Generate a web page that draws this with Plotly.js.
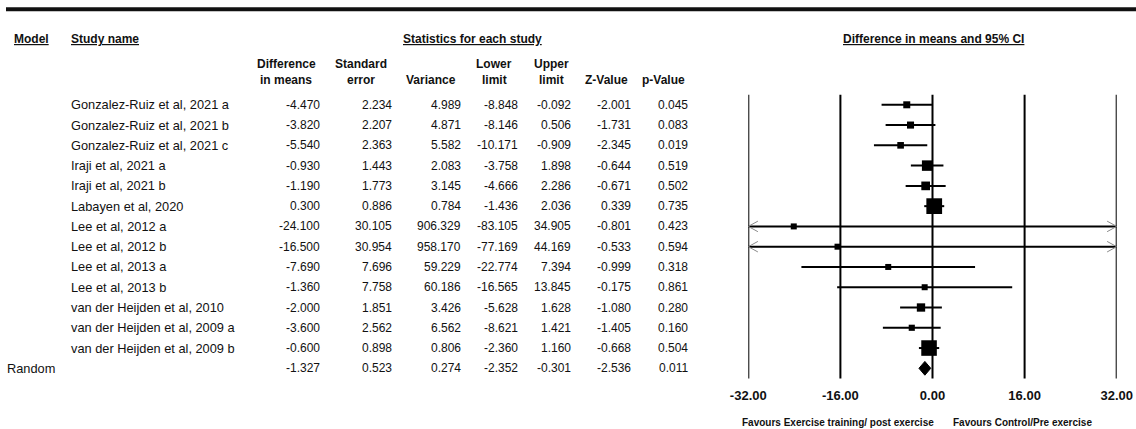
<!DOCTYPE html>
<html>
<head>
<meta charset="utf-8">
<script src="https://cdn.plot.ly/plotly-3.0.1.min.js"></script>
<style>html,body{margin:0;padding:0;background:#fff;}#chart{width:1136px;height:429px;}</style>
</head>
<body>
<div id="chart"></div>
<script>
// ---------- data ----------
const studies = [
  "Gonzalez-Ruiz et al, 2021 a",
  "Gonzalez-Ruiz et al, 2021 b",
  "Gonzalez-Ruiz et al, 2021 c",
  "Iraji et al, 2021 a",
  "Iraji et al, 2021 b",
  "Labayen et al, 2020",
  "Lee et al, 2012 a",
  "Lee et al, 2012 b",
  "Lee et al, 2013 a",
  "Lee et al, 2013 b",
  "van der Heijden et al, 2010",
  "van der Heijden et al, 2009 a",
  "van der Heijden et al, 2009 b"
];
const diffMeans = [-4.470, -3.820, -5.540, -0.930, -1.190, 0.300, -24.100, -16.500, -7.690, -1.360, -2.000, -3.600, -0.600];
const stdErr    = [2.234, 2.207, 2.363, 1.443, 1.773, 0.886, 30.105, 30.954, 7.696, 7.758, 1.851, 2.562, 0.898];
const variance  = [4.989, 4.871, 5.582, 2.083, 3.145, 0.784, 906.329, 958.170, 59.229, 60.186, 3.426, 6.562, 0.806];
const lowerLim  = [-8.848, -8.146, -10.171, -3.758, -4.666, -1.436, -83.105, -77.169, -22.774, -16.565, -5.628, -8.621, -2.360];
const upperLim  = [-0.092, 0.506, -0.909, 1.898, 2.286, 2.036, 34.905, 44.169, 7.394, 13.845, 1.628, 1.421, 1.160];
const zValue    = [-2.001, -1.731, -2.345, -0.644, -0.671, 0.339, -0.801, -0.533, -0.999, -0.175, -1.080, -1.405, -0.668];
const pValue    = [0.045, 0.083, 0.019, 0.519, 0.502, 0.735, 0.423, 0.594, 0.318, 0.861, 0.280, 0.160, 0.504];

const modelName = "Random";
const summaryDiff = -1.327, summarySE = 0.523, summaryVar = 0.274;
const summaryLower = -2.352, summaryUpper = -0.301, summaryZ = -2.536, summaryP = 0.011;

const tickVals = [-32, -16, 0, 16, 32];
const tickLabels = ["-32.00", "-16.00", "0.00", "16.00", "32.00"];

const headerTop = ["Difference", "Standard", "", "Lower", "Upper", "", ""];
const headerBottom = ["in means", "error", "Variance", "limit", "limit", "Z-Value", "p-Value"];
const favoursLeft = "Favours Exercise training/ post exercise";
const favoursRight = "Favours Control/Pre exercise";

// ---------- layout helpers ----------
const W = 1136, H = 429;
const FONT = "Liberation Sans, Arial, sans-serif";
const ROW0 = 104.8, ROWH = 20.27;       // pixel centre of first row, row spacing
const AXIS_PX = 386;                     // bottom of the plotting area
const px2row = p => (p - ROW0) / ROWH;
const xmin = tickVals[0], xmax = tickVals[tickVals.length - 1];
const n = studies.length;
const sumRow = n;
const tau2 = 0.25;

const annotations = [];
function txt(x, y, text, opts) {
  annotations.push(Object.assign({
    x: x / W, xref: "paper", y: y, yref: "y", text: text, showarrow: false,
    xanchor: "right", yanchor: "middle", borderpad: 0,
    font: {family: FONT, size: 12, color: "#111"}
  }, opts || {}));
}

// column right edges (pixels)
const colRight = [321, 393, 462, 519, 572, 632, 689];
const colCentre = [286, 361, 431, 494, 551, 606, 663];

// headers
const bold = {family: FONT, size: 12, color: "#111", weight: "bold"};
txt(13, px2row(38.5), "<u>Model</u>", {xanchor: "left", font: bold});
txt(70, px2row(38.5), "<u>Study name</u>", {xanchor: "left", font: bold});
txt(473, px2row(38.5), "<u>Statistics for each study</u>", {xanchor: "center", font: bold});
txt(933, px2row(38.5), "<u>Difference in means and 95% CI</u>", {xanchor: "center", font: bold});
for (let c = 0; c < headerBottom.length; c++) {
  if (headerTop[c]) txt(colCentre[c], px2row(63.5), headerTop[c], {xanchor: "center", font: bold});
  txt(colCentre[c], px2row(79.5), headerBottom[c], {xanchor: "center", font: bold});
}

// rows
const nameFont = {family: FONT, size: 12.8, color: "#111"};
const f3 = v => v.toFixed(3);
function rowText(i, vals) {
  vals.forEach((v, c) => txt(colRight[c], i, f3(v)));
}
for (let i = 0; i < n; i++) {
  txt(70, i, studies[i], {xanchor: "left", font: nameFont});
  rowText(i, [diffMeans[i], stdErr[i], variance[i], lowerLim[i], upperLim[i], zValue[i], pValue[i]]);
}
txt(6, sumRow, modelName, {xanchor: "left", font: nameFont});
rowText(sumRow, [summaryDiff, summarySE, summaryVar, summaryLower, summaryUpper, summaryZ, summaryP]);

// footer
const footFont = {family: FONT, size: 10, color: "#111", weight: "bold"};
annotations.push({x: 741 / W, xref: "paper", y: 1 - 422.7 / H, yref: "paper", text: favoursLeft,
  showarrow: false, xanchor: "left", yanchor: "middle", borderpad: 0, font: footFont});
annotations.push({x: 952 / W, xref: "paper", y: 1 - 422.7 / H, yref: "paper", text: favoursRight,
  showarrow: false, xanchor: "left", yanchor: "middle", borderpad: 0, font: footFont});

// ---------- traces ----------
const clip = v => Math.max(xmin, Math.min(xmax, v));
const ciX = [], ciY = [];
const chevX = [], chevY = [];
const dx = (xmax - xmin) * 0.026, dy = 0.26;
for (let i = 0; i < n; i++) {
  ciX.push(clip(lowerLim[i]), clip(upperLim[i]), null);
  ciY.push(i, i, null);
  if (lowerLim[i] < xmin) { chevX.push(xmin + dx, xmin, xmin + dx, null); chevY.push(i - dy, i, i + dy, null); }
  if (upperLim[i] > xmax) { chevX.push(xmax - dx, xmax, xmax - dx, null); chevY.push(i - dy, i, i + dy, null); }
}
const sizes = variance.map(v => Math.max(6, 16 * Math.sqrt(1 / (v + tau2))));

const traces = [
  {x: ciX, y: ciY, mode: "lines", line: {color: "#000", width: 2}, hoverinfo: "skip", cliponaxis: false},
  {x: chevX, y: chevY, mode: "lines", line: {color: "#8a8a8a", width: 1}, hoverinfo: "skip", cliponaxis: false},
  {x: diffMeans, y: studies.map((s, i) => i), mode: "markers",
   marker: {symbol: "square", size: sizes, color: "#000", opacity: 1, line: {width: 0}}, cliponaxis: false},
  {x: [summaryLower, summaryDiff, summaryUpper, summaryDiff, summaryLower],
   y: [sumRow, sumRow - 0.34, sumRow, sumRow + 0.34, sumRow],
   mode: "lines", fill: "toself", fillcolor: "#000", line: {color: "#000", width: 1}, cliponaxis: false}
];

// ---------- shapes ----------
const shapes = [
  {type: "line", xref: "paper", yref: "paper", x0: 6 / W, x1: 1, y0: 1 - 9.3 / H, y1: 1 - 9.3 / H,
   line: {color: "#111", width: 4}}
];
tickVals.forEach(v => shapes.push({type: "line", xref: "x", yref: "y", x0: v, x1: v, y0: -0.5, y1: sumRow + 0.5,
  line: {color: "#000", width: 2}, layer: "below"}));

const layout = {
  width: W, height: H,
  margin: {l: 0, r: 0, t: 0, b: 0},
  paper_bgcolor: "#fff", plot_bgcolor: "rgba(0,0,0,0)",
  showlegend: false,
  xaxis: {
    domain: [748.3 / W, 1116.7 / W], range: [xmin, xmax],
    showgrid: false, zeroline: false, showline: false, ticks: "",
    tickmode: "array", tickvals: tickVals, ticktext: tickLabels,
    tickfont: {family: FONT, size: 13, color: "#111", weight: "bold"},
    fixedrange: true
  },
  yaxis: {
    domain: [(H - AXIS_PX) / H, 1], range: [px2row(AXIS_PX), px2row(0)],
    showgrid: false, zeroline: false, showline: false, showticklabels: false, ticks: "",
    fixedrange: true
  },
  annotations: annotations,
  shapes: shapes
};

Plotly.newPlot("chart", traces, layout, {staticPlot: true, displayModeBar: false});
</script>
</body>
</html>
